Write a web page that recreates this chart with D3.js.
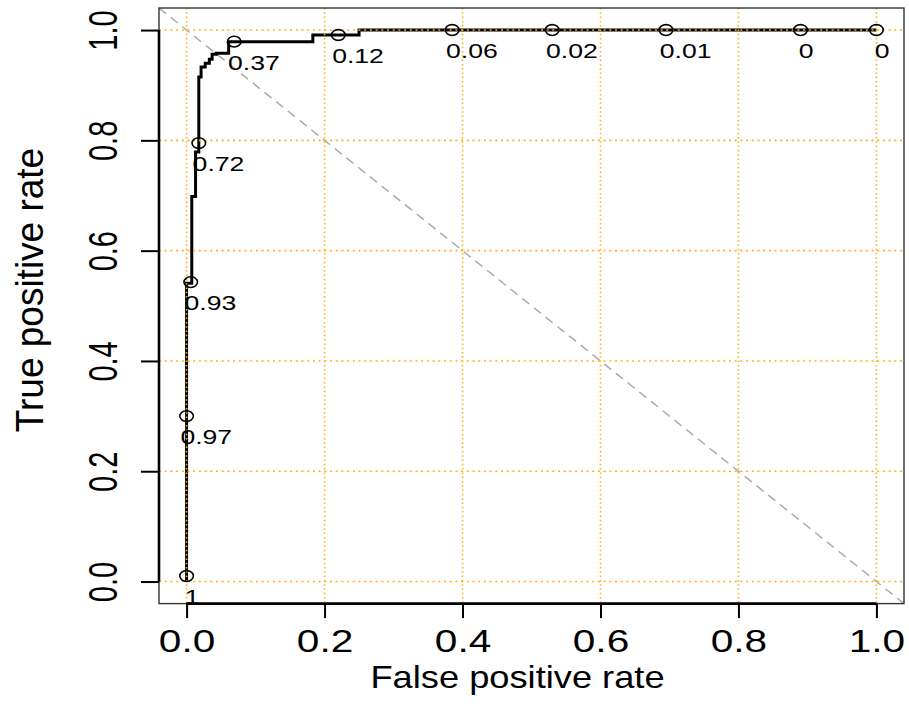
<!DOCTYPE html>
<html>
<head>
<meta charset="utf-8">
<script src="https://cdn.jsdelivr.net/npm/d3@7"></script>
<style>
body { margin: 0; background: #fff; }
text { font-family: "Liberation Sans", Arial, Helvetica, sans-serif; fill: #000; }
</style>
</head>
<body>
<svg id="chart" width="909" height="725"></svg>
<script>
// ROC curve corners (false positive rate / true positive rate)
var aRocFpr = [0, 0, 0.0075, 0.0075, 0.013, 0.013, 0.0177, 0.0177, 0.021, 0.021, 0.027, 0.027, 0.033, 0.033, 0.037, 0.037, 0.043, 0.043, 0.061, 0.061, 0.183, 0.183, 0.25, 0.25, 1];
var aRocTpr = [0, 0.541, 0.541, 0.698, 0.698, 0.779, 0.779, 0.915, 0.915, 0.933, 0.933, 0.940, 0.940, 0.947, 0.947, 0.956, 0.956, 0.958, 0.958, 0.979, 0.979, 0.991, 0.991, 1, 1];

// printed cutoffs
var aCutFpr = [0, 0, 0.006, 0.0177, 0.069, 0.22, 0.385, 0.53, 0.695, 0.89, 1];
var aCutTpr = [0.01, 0.30, 0.543, 0.795, 0.979, 0.991, 1, 1, 1, 1, 1];
var aCutLabels = ['1', '0.97', '0.93', '0.72', '0.37', '0.12', '0.06', '0.02', '0.01', '0', '0'];

var aTicks = [0, 0.2, 0.4, 0.6, 0.8, 1.0];
var aTickLabels = ['0.0', '0.2', '0.4', '0.6', '0.8', '1.0'];

var strXTitle = 'False positive rate';
var strYTitle = 'True positive rate';

var sSvg = d3.select('#chart');

var nLeft = 159, nRight = 904, nTop = 8, nBottom = 603.6;
var fStretch = 1.37;   // picture is wider than it is tall

var xScale = d3.scaleLinear().domain([-0.04, 1.04]).range([nLeft, nRight]);
var yScale = d3.scaleLinear().domain([-0.04, 1.04]).range([nBottom, nTop]);

sSvg.append('defs').append('clipPath').attr('id', 'plotclip')
	.append('rect')
		.attr('x', nLeft).attr('y', nTop)
		.attr('width', nRight - nLeft).attr('height', nBottom - nTop);

var sPlot = sSvg.append('g').attr('clip-path', 'url(#plotclip)');

// diagonal reference line
sPlot.append('line')
	.attr('x1', xScale(-0.04)).attr('y1', yScale(1.04))
	.attr('x2', xScale(1.04)).attr('y2', yScale(-0.04))
	.attr('stroke', '#aaaaaa')
	.attr('stroke-width', 1.5)
	.attr('stroke-dasharray', '9,6');

// curve
var aRoc = aRocFpr.map(function(v, i) { return [v, aRocTpr[i]]; });
sPlot.append('path')
	.datum(aRoc)
	.attr('d', d3.line().x(function(d) { return xScale(d[0]); }).y(function(d) { return yScale(d[1]); }))
	.attr('fill', 'none')
	.attr('stroke', '#000')
	.attr('stroke-width', 3)
	.attr('stroke-linejoin', 'miter');

// grid on top
sPlot.selectAll('.vgrid')
	.data(aTicks)
	.enter()
		.append('line')
		.attr('class', 'vgrid')
		.attr('x1', function(d) { return xScale(d); })
		.attr('x2', function(d) { return xScale(d); })
		.attr('y1', nTop).attr('y2', nBottom)
		.attr('stroke', '#ffae1a')
		.attr('stroke-width', 1.6)
		.attr('stroke-dasharray', '1.5,2.8');

sPlot.selectAll('.hgrid')
	.data(aTicks)
	.enter()
		.append('line')
		.attr('class', 'hgrid')
		.attr('y1', function(d) { return yScale(d); })
		.attr('y2', function(d) { return yScale(d); })
		.attr('x1', nLeft).attr('x2', nRight)
		.attr('stroke', '#ffae1a')
		.attr('stroke-width', 1.6)
		.attr('stroke-dasharray', '2,3.7');

// cutoff markers
sPlot.selectAll('.cut')
	.data(aCutLabels)
	.enter()
		.append('ellipse')
		.attr('class', 'cut')
		.attr('cx', function(d, i) { return xScale(aCutFpr[i]); })
		.attr('cy', function(d, i) { return yScale(aCutTpr[i]); })
		.attr('rx', 6.8).attr('ry', 5.4)
		.attr('fill', 'none')
		.attr('stroke', '#000')
		.attr('stroke-width', 1.6);

sPlot.selectAll('.cutlabel')
	.data(aCutLabels)
	.enter()
		.append('text')
		.attr('class', 'cutlabel')
		.attr('transform', function(d, i)
			{
				return 'translate(' + xScale(aCutFpr[i]) + ',' + (yScale(aCutTpr[i]) + 28) + ') scale(1.33,1)';
			})
		.style('font-size', '20px')
		.text(function(d) { return d; })
		.each(function()
			{
				var fLen = this.getComputedTextLength();
				d3.select(this).attr('x', -0.12 * fLen);
			});

// box
sSvg.append('rect')
	.attr('x', nLeft).attr('y', nTop)
	.attr('width', nRight - nLeft).attr('height', nBottom - nTop)
	.attr('fill', 'none')
	.attr('stroke', '#333')
	.attr('stroke-width', 1.4);

// axes
var gX = sSvg.append('g')
	.attr('transform', 'translate(0,' + nBottom + ')')
	.call(d3.axisBottom(xScale).tickValues(aTicks).tickSize(14.5).tickFormat(function(d, i) { return aTickLabels[i]; }));
gX.select('.domain').remove();
gX.selectAll('.tick line').attr('stroke', '#000').attr('stroke-width', 2);
gX.selectAll('.tick text')
	.attr('y', null).attr('dy', null)
	.attr('transform', 'translate(0,48) scale(1.27,1)')
	.style('font-size', '32px');
gX.append('line')
	.attr('x1', xScale(0)).attr('x2', xScale(1))
	.attr('stroke', '#000').attr('stroke-width', 2.6);

var gY = sSvg.append('g')
	.attr('transform', 'translate(' + nLeft + ',0)')
	.call(d3.axisLeft(yScale).tickValues(aTicks).tickSize(18).tickFormat(function(d, i) { return aTickLabels[i]; }));
gY.select('.domain').remove();
gY.selectAll('.tick line').attr('stroke', '#000').attr('stroke-width', 2);
gY.selectAll('.tick text')
	.attr('x', null).attr('dy', null)
	.attr('text-anchor', 'middle')
	.attr('transform', 'translate(-42,0) scale(' + fStretch + ',1) rotate(-90)')
	.style('font-size', '29px');
gY.append('line')
	.attr('y1', yScale(0)).attr('y2', yScale(1))
	.attr('stroke', '#000').attr('stroke-width', 2.6);

d3.selectAll('.tick text').attr('fill', '#000');
sSvg.selectAll('.domain').remove();

// titles
sSvg.append('text')
	.attr('text-anchor', 'middle')
	.attr('transform', 'translate(' + ((nLeft + nRight) / 2 - 14) + ',688) scale(1.17,1)')
	.style('font-size', '31px')
	.text(strXTitle);

sSvg.append('text')
	.attr('text-anchor', 'middle')
	.attr('transform', 'translate(43,290) scale(1.05,1) rotate(-90)')
	.style('font-size', '37px')
	.text(strYTitle);
</script>
</body>
</html>
